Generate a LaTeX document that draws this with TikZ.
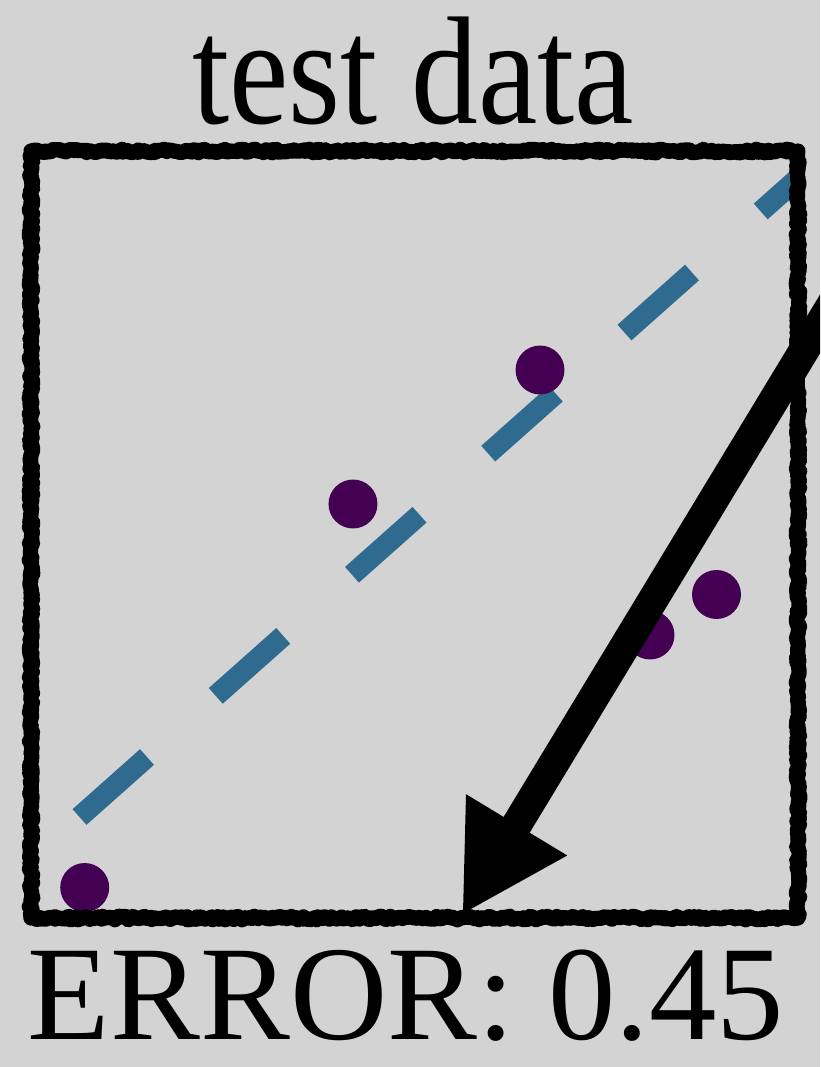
\documentclass[tikz,border=0pt]{standalone}
\usepackage{fontspec}
\setmainfont{Liberation Serif}
\usetikzlibrary{arrows.meta}
\usetikzlibrary{calc,positioning}
\usetikzlibrary{decorations.pathmorphing}

\definecolor{panelgray}{HTML}{D3D3D3}
\definecolor{fitblue}{HTML}{2F6B8E}
\definecolor{dotpurple}{HTML}{440154}

\tikzset{
  datadot/.style={circle, fill=dotpurple, inner sep=0pt, minimum size=41.8pt},
  chalk/.style={line width=#1, line join=round, decorate,
    decoration={random steps, segment length=2pt, amplitude=1.5pt}},
  bigtext/.style={anchor=base, inner sep=0pt, font=\fontsize{#1}{#1}\selectfont}
}

\begin{document}
\begin{tikzpicture}[x=0.3mm, y=-0.3mm]
    \fill[panelgray] (0,0) rectangle (820,1067);
    \clip (0,0) rectangle (820,1067);
    \pgfmathsetseed{7}
    % fitted line
    \coordinate (fitlo) at (79.5,817);
    \coordinate (fithi) at (798,178.3);
    \draw[fitblue, line width=17.9pt, dash pattern=on 77.1pt off 78.5pt] (fitlo) -- (fithi);
    % test points
    \node[datadot] (p1) at (84.7,887.5) {};
    \node[datadot] (p2) at (353,504) {};
    \node[datadot] (p3) at (540,370) {};
    \node[datadot] (p4) at (650,635) {};
    \node[datadot] (p5) at (716.5,594.5) {};
    % sketchy frame
    \draw[chalk=13pt] (31,151) rectangle (798,918);
    \draw[chalk=10pt] (31,151) rectangle (798,918);
    \node[bigtext=114pt] (title) at (413,124) {\scalebox{1}[1.15]{test data}};
    \node[bigtext=115pt] (error) at (406,1039) {ERROR: 0.45};
    % arrow
    \coordinate (arrowstart) at (840,291);
    \coordinate (arrowtip) at (462,915);
    \draw[line width=26pt, -{Triangle[length=90pt,width=94pt]}] (arrowstart) -- (arrowtip);
\end{tikzpicture}
\end{document}
